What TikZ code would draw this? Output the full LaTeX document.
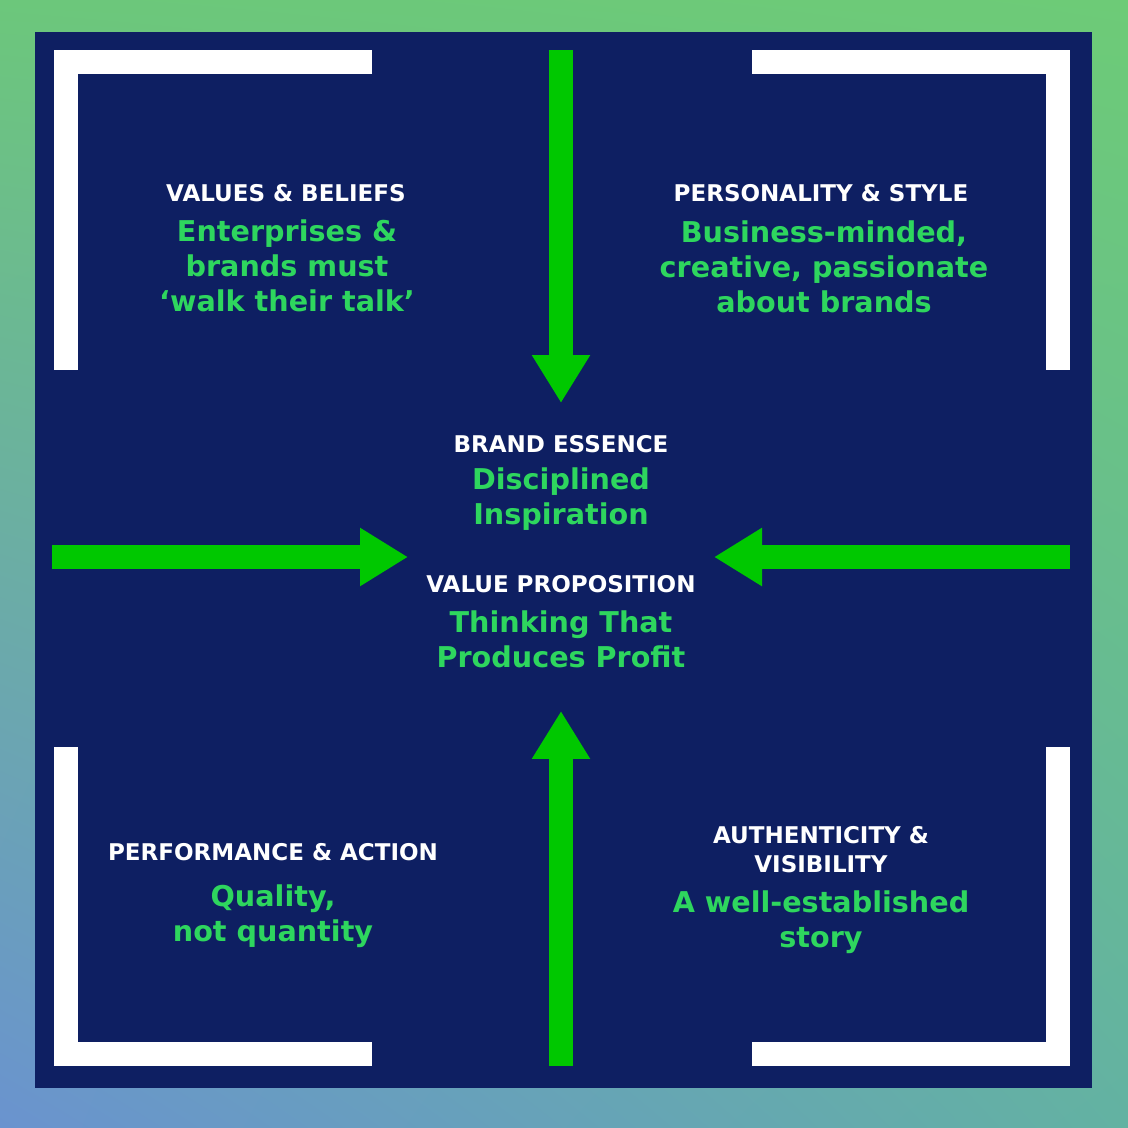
\documentclass[tikz,border=0pt]{standalone}
\usepackage{fontspec}
\setmainfont{DejaVu Sans}
\usepackage{tikz}
\usetikzlibrary{arrows.meta, positioning, shadings}

\definecolor{navy}{HTML}{0E1F62}
\definecolor{arrowgreen}{HTML}{00C800}
\definecolor{textgreen}{HTML}{2ED65E}
\definecolor{bgtl}{HTML}{6CC77B}
\definecolor{bgtr}{HTML}{6DCB77}
\definecolor{bgbl}{HTML}{6A93CF}
\definecolor{bgbr}{HTML}{63B2A2}

\begin{document}
\begin{tikzpicture}[
    x=0.02cm, y=-0.02cm,
    heading/.style={text=white, align=center, inner sep=0pt, font=\bfseries\fontsize{13.1}{16.5}\selectfont},
    message/.style={text=textgreen, align=center, inner sep=0pt, font=\bfseries\fontsize{16.3}{19.9}\selectfont},
    bracket/.style={draw=white, line width=0.48cm, line join=miter},
    bigarrow/.style={draw=arrowgreen, line width=0.48cm, -{Triangle[length=0.96cm, width=1.1cm]}}
]
    % background and panel
    \shade[upper left=bgtl, upper right=bgtr, lower left=bgbl, lower right=bgbr] (0,0) rectangle (1128,1128);
    \fill[navy] (35,32) rectangle (1092,1088);

    % corner brackets
    \draw[bracket] (372,62) -- (66,62) -- (66,370);
    \draw[bracket] (752,62) -- (1058,62) -- (1058,370);
    \draw[bracket] (66,747) -- (66,1054) -- (372,1054);
    \draw[bracket] (1058,747) -- (1058,1054) -- (752,1054);

    % arrow ends
    \coordinate (ntop) at (561,50);
    \coordinate (ntip) at (561,403);
    \coordinate (sbot) at (561,1066);
    \coordinate (stip) at (561,711);
    \coordinate (wleft) at (52,557);
    \coordinate (wtip) at (408,557);
    \coordinate (eright) at (1070,557);
    \coordinate (etip) at (714,557);

    \draw[bigarrow] (ntop) -- (ntip);
    \draw[bigarrow] (sbot) -- (stip);
    \draw[bigarrow] (wleft) -- (wtip);
    \draw[bigarrow] (eright) -- (etip);

    % quadrant texts
    \node[heading] (valhead) at (286,193) {VALUES \& BELIEFS};
    \node[message] (valtext) at (287,266) {Enterprises \&\\brands must\\‘walk their talk’};

    \node[heading] (perhead) at (821,193) {PERSONALITY \& STYLE};
    \node[message] (pertext) at (824,267) {Business-minded,\\creative, passionate\\about brands};

    \node[heading] (perfhead) at (273,852) {PERFORMANCE \& ACTION};
    \node[message] (perftext) at (273,916) {Quality,\\not quantity};

    \node[heading] (authhead) at (821,850) {AUTHENTICITY \&\\VISIBILITY};
    \node[message] (authtext) at (821,922) {A well-established\\story};

    % centre texts
    \node[heading] (esshead) at (561,444) {BRAND ESSENCE};
    \node[message] (esstext) at (561,499) {Disciplined\\Inspiration};

    \node[heading] (prophead) at (561,584) {VALUE PROPOSITION};
    \node[message] (proptext) at (561,639) {Thinking That\\Produces Profit};
\end{tikzpicture}
\end{document}
